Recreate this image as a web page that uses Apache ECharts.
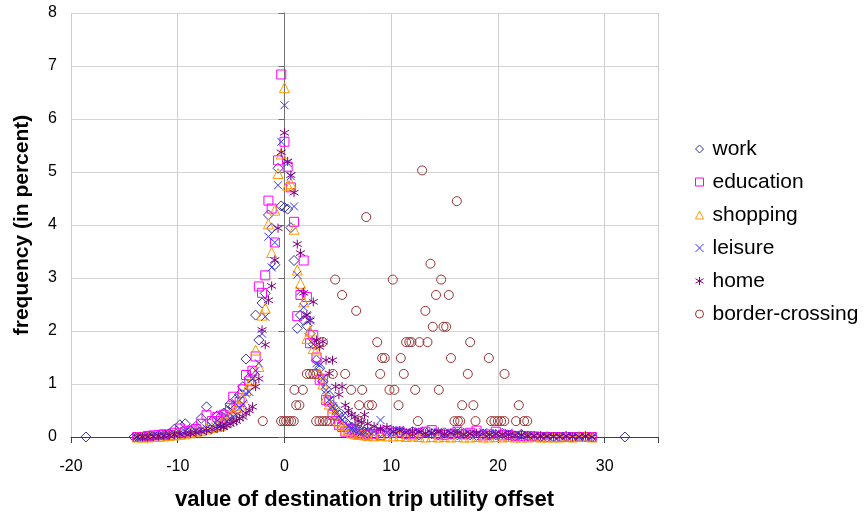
<!DOCTYPE html>
<html>
<head>
<meta charset="utf-8">
<script src="https://cdn.jsdelivr.net/npm/echarts@6/dist/echarts.min.js"></script>
<style>html,body{margin:0;padding:0;background:#fff}#c{width:867px;height:517px}</style>
</head>
<body>
<div id="c"></div>
<script>
// ---- data ----
const seriesNames = ['work','education','shopping','leisure','home','border-crossing'];
const xTicks = [-20,-10,0,10,20,30];

// shared bin centres
const xLeft = [-13.8,-13.3,-12.8,-12.3,-11.8,-11.3,-10.8,-10.3,-9.8,-9.3,-8.8,-8.3,-7.8,-7.3,-6.8,-6.3];
const xCentre = [-6.0,-5.7,-5.4,-5.1,-4.8,-4.5,-4.2,-3.9,-3.6,-3.3,-3.0,-2.7,-2.4,-2.1,-1.8,-1.5,-1.2,-0.9,-0.6,-0.3,
  0.0,0.3,0.6,0.9,1.2,1.5,1.8,2.1,2.4,2.7,3.0,3.3,3.6,3.9,4.2,4.5,4.8,5.1,5.4,5.7,6.0,6.3,6.6,6.9,7.2,7.5];
const xRight = [7.8,8.4,9.0,9.6,10.2,10.8,11.4,12.0,12.6,13.2,13.8,14.4,15.0,15.6,16.2,16.8,17.4,18.0,
  18.6,19.2,19.8,20.4,21.0,21.6,22.2,22.8,23.4,24.0,24.6,25.2,25.8,26.4,27.0,27.6,28.2,28.8];

const workLeft = [0,0,0,0.02,0.03,0.04,0.06,0.15,0.23,0.25,0.12,0.2,0.35,0.57,0.3,0.4];
const workCentre = [0.38,0.45,0.48,0.62,0.58,0.72,0.8,0.95,1.47,1.12,1.22,2.3,1.83,2.53,2.71,4.19,3.94,3.25,5.07,4.36,
  4.33,4.3,3.95,3.33,2.05,2.3,2.2,2.1,1.95,1.75,1.45,1.3,1.05,0.9,0.78,0.6,0.52,0.42,0.33,0.28,0.22,0.18,0.15,0.13,0.11,0.1];
const workRight = [0.09,0.12,0.1,0.07,0.11,0.08,0.05,0.1,0.04,0.09,0.06,0.04,0.08,0.05,0.04,0.07,0.04,0.03,
  0.06,0.03,0.04,0.07,0.03,0.02,0.05,0.02,0.01,0.01,0,0,0,0.01,0,0,0,0];
const workExtra = [[-18.6,0],[-14.1,0],[-13.65,0],[-12.65,0],[31.9,0]];

const eduLeft = [0,0,0.02,0.03,0.04,0.05,0.04,0.08,0.16,0.1,0.12,0.15,0.25,0.41,0.3,0.38];
const eduCentre = [0.3,0.42,0.35,0.55,0.76,0.54,0.66,0.9,1.17,1.05,1.25,1.52,2.84,2.72,3.05,4.46,4.31,3.67,5.22,6.84,
  5.57,5.1,4.71,4.06,2.28,2.68,3.33,2.64,1.77,1.92,1.5,1.08,1.1,0.7,0.67,0.42,0.3,0.23,0.19,0.1,0.15,0.09,0.13,0.06,0.05,0.04];
const eduRight = [0.05,0.06,0.04,0.12,0.08,0.1,0.06,0.05,0.07,0.1,0.13,0.05,0.04,0.06,0.1,0.05,0.08,0.12,
  0.03,0.05,0.1,0.03,0.04,0.02,0.02,0.01,0.01,0,0,0,0,0,0,0,0,0];

const shopLeft = [0,0,0,0.01,0.01,0.02,0.03,0.04,0.05,0.06,0.08,0.1,0.12,0.15,0.18,0.2];
const shopCentre = [0.22,0.3,0.28,0.4,0.45,0.55,0.6,0.75,0.88,1.0,1.08,1.64,1.33,2.3,2.43,4.02,3.48,4.28,4.97,5.34,
  6.59,4.75,4.78,3.92,3.15,2.9,2.55,1.86,2.0,1.67,1.64,1.2,1.0,0.75,0.62,0.55,0.45,0.3,0.22,0.15,0.12,0.08,0.06,0.05,0.05,0.04];
const shopRight = [0.03,0.02,0.03,0.02,0.02,0.03,0.01,0.02,0.01,0,0.01,0,0.01,0,0.01,0,0,0.01,
  0,0,0.01,0,0.01,0,0,0,0.01,0,0,0,0,0.02,0,0.01,0.02,0];

const leisLeft = [0,0,0.01,0.02,0.02,0.03,0.05,0.06,0.08,0.1,0.09,0.12,0.14,0.16,0.2,0.22];
const leisCentre = [0.25,0.22,0.3,0.35,0.38,0.41,0.55,0.62,0.82,0.85,1.1,1.25,1.39,1.95,2.27,3.78,3.2,3.67,4.75,5.57,
  6.26,5.17,4.92,4.35,3.06,2.75,2.45,2.3,2.2,1.75,1.39,1.35,1.1,0.88,0.7,0.58,0.5,0.4,0.32,0.45,0.2,0.15,0.12,0.1,0.08,0.1];
const leisRight = [0.12,0.1,0.32,0.08,0.1,0.13,0.09,0.06,0.11,0.05,0.07,0.1,0.05,0.07,0.12,0.04,0.06,0.05,
  0.09,0.05,0.06,0.03,0.08,0.03,0.02,0.04,0.02,0.02,0.01,0.01,0.01,0.02,0.01,0,0.01,0];

const homeLeft = [0,0,0,0.01,0.02,0.02,0.03,0.04,0.05,0.06,0.07,0.08,0.1,0.12,0.14,0.16];
const homeCentre = [0.2,0.18,0.22,0.25,0.28,0.3,0.35,0.38,0.45,0.5,0.57,0.95,1.1,2.02,1.74,2.58,2.85,3.34,3.94,5.37,
  5.74,5.2,4.94,4.61,3.64,3.47,2.72,2.3,2.2,2.55,1.83,1.7,1.8,1.45,1.2,1.45,0.95,0.8,0.95,0.6,0.5,0.42,0.38,0.3,0.28,0.42];
const homeRight = [0.25,0.2,0.15,0.18,0.1,0.12,0.08,0.1,0.09,0.07,0.08,0.1,0.06,0.08,0.07,0.05,0.06,0.07,
  0.05,0.04,0.06,0.05,0.04,0.03,0.04,0.02,0.03,0.02,0.02,0.01,0.01,0.02,0.01,0.01,0.02,0];

const borderX = [12.9,16.15,7.66,13.68,4.75,10.15,14.68,5.4,14.2,15.4,6.72,13.2,13.9,14.9,15.15,
  3.6,8.69,11.4,11.7,11.9,12.65,13.4,17.4,
  9.15,9.4,10.9,15.6,19.15,
  2.1,2.4,2.7,3.0,4.53,5.69,8.97,11.18,17.18,20.62,
  0.94,1.72,6.25,7.28,9.84,10.3,12.25,14.46,
  1.1,1.4,7.0,7.9,8.2,10.69,16.65,17.7,21.96,
  -2.03,-0.31,-0.06,0.16,0.4,0.63,0.87,2.97,3.28,3.59,3.9,4.22,7.03,12.5,15.93,16.25,16.47,17.9,
  19.37,19.68,20.0,20.3,20.6,21.7,22.45,22.75];
const borderY = [5.03,4.45,4.15,3.27,2.97,2.97,2.97,2.68,2.68,2.68,2.38,2.38,2.08,2.08,2.08,
  1.79,1.79,1.79,1.79,1.79,1.79,1.79,1.79,
  1.49,1.49,1.49,1.49,1.49,
  1.19,1.19,1.19,1.19,1.19,1.19,1.19,1.19,1.19,1.19,
  0.89,0.89,0.89,0.89,0.89,0.89,0.89,0.89,
  0.6,0.6,0.6,0.6,0.6,0.6,0.6,0.6,0.6,
  0.3,0.3,0.3,0.3,0.3,0.3,0.3,0.3,0.3,0.3,0.3,0.3,0.3,0.3,0.3,0.3,0.3,0.3,
  0.3,0.3,0.3,0.3,0.3,0.3,0.3,0.3];

// ---- build ----
function zip(xs, ys){ return xs.map((x,i)=>[x, ys[i]]); }
function trio(l,c,r){ return zip(xLeft,l).concat(zip(xCentre,c), zip(xRight,r)); }

const dataSets = [
  trio(workLeft,workCentre,workRight).concat(workExtra),
  trio(eduLeft,eduCentre,eduRight),
  trio(shopLeft,shopCentre,shopRight),
  trio(leisLeft,leisCentre,leisRight),
  trio(homeLeft,homeCentre,homeRight),
  zip(borderX,borderY)
];
const styles = [
  {symbol:'diamond', size:10, color:'#333399'},
  {symbol:'rect', size:9, color:'#FF00FF'},
  {symbol:'triangle', size:10, color:'#FF9900'},
  {symbol:'path://M0,0L10,10M10,0L0,10', size:8, color:'#3333FF'},
  {symbol:'path://M5,0L5,10M0,2.2L10,7.8M10,2.2L0,7.8', size:9, color:'#800080'},
  {symbol:'circle', size:9, color:'#993333'}
];

const FONT = '"Liberation Sans", Arial, sans-serif';
const chart = echarts.init(document.getElementById('c'), null, {renderer:'canvas'});
chart.setOption({
  animation:false,
  backgroundColor:'#fff',
  textStyle:{fontFamily:FONT},
  grid:{left:71, right:209, top:13, bottom:80, containLabel:false},
  legend:{
    orient:'vertical', left:690, top:133, itemWidth:8, itemHeight:8, itemGap:11,
    data:seriesNames,
    itemStyle:{borderWidth:1},
    textStyle:{fontFamily:FONT, fontSize:21, color:'#000', lineHeight:22, padding:[0,0,0,4]}
  },
  xAxis:{
    type:'value', min:-20, max:35, interval:10,
    name:'value of destination trip utility offset', nameLocation:'middle', nameGap:52,
    nameTextStyle:{fontFamily:FONT, fontSize:22, fontWeight:'bold', color:'#000'},
    axisLine:{onZero:false, lineStyle:{color:'#404040', width:1}},
    axisTick:{show:true, inside:false, length:6, lineStyle:{color:'#404040'}},
    axisLabel:{margin:22, fontSize:16, color:'#000', fontFamily:FONT,
      customValues: xTicks, formatter: v => String(v)},
    splitLine:{show:true, lineStyle:{color:'#cfcfcf', width:1}}
  },
  yAxis:{
    type:'value', min:0, max:8, interval:1,
    name:'frequency (in percent)', nameLocation:'middle', nameGap:38,
    nameTextStyle:{fontFamily:FONT, fontSize:21, fontWeight:'bold', color:'#000'},
    axisLine:{show:true, lineStyle:{color:'#707070', width:1}},
    axisTick:{show:true, length:6, lineStyle:{color:'#707070'}},
    axisLabel:{margin:14, fontSize:16, color:'#000', fontFamily:FONT},
    splitLine:{show:true, lineStyle:{color:'#d4d4d4', width:1}}
  },
  series: seriesNames.map((n,i)=>({
    name:n, type:'scatter', data:dataSets[i],
    symbol:styles[i].symbol, symbolSize:styles[i].size, symbolKeepAspect:true,
    itemStyle:{color:'rgba(255,255,255,0)', borderColor:styles[i].color, borderWidth:1, opacity:1},
    emphasis:{disabled:true},
    z:2+i
  }))
});
</script>
</body>
</html>
